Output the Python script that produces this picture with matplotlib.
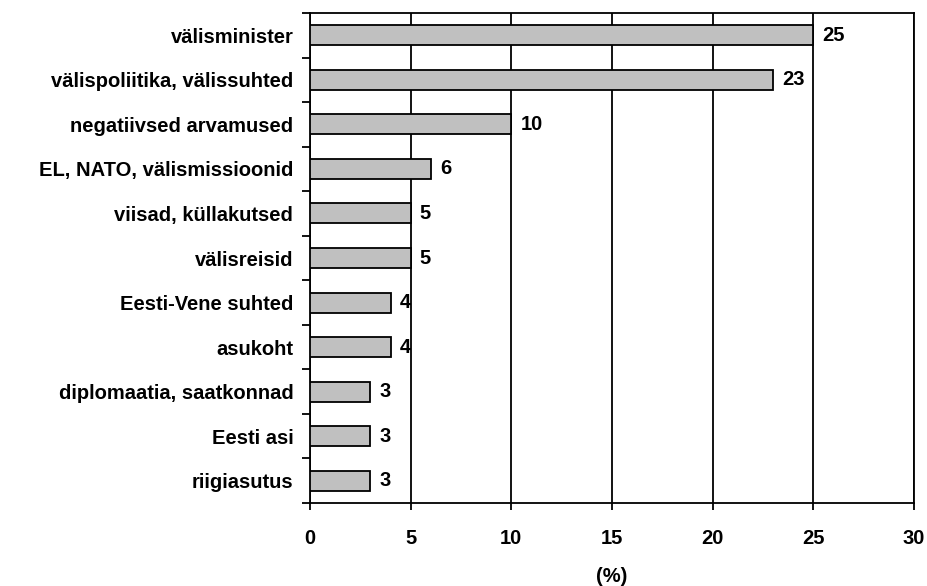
import matplotlib
matplotlib.use("Agg")
import matplotlib.pyplot as plt
from matplotlib.ticker import FixedLocator

categories = ["välisminister", "välispoliitika, välissuhted", "negatiivsed arvamused",
              "EL, NATO, välismissioonid", "viisad, küllakutsed", "välisreisid",
              "Eesti-Vene suhted", "asukoht", "diplomaatia, saatkonnad", "Eesti asi",
              "riigiasutus"]
values = [25, 23, 10, 6, 5, 5, 4, 4, 3, 3, 3]
xticks = [0, 5, 10, 15, 20, 25, 30]

plt.rcParams['font.family'] = ['Liberation Sans', 'DejaVu Sans']
plt.rcParams['font.weight'] = 'bold'
FS = 14.5

fig = plt.figure(figsize=(9.28, 5.86), dpi=100)
ax = fig.add_axes([310/928, 1-503/586, (914-310)/928, (503-13)/586])

n = len(categories)
ypos = list(range(n))
ax.barh(ypos, values, height=0.45, color='#c0c0c0', edgecolor='black', linewidth=1.3, zorder=3)
for y, v in zip(ypos, values):
    ax.text(v + 0.45, y, str(v), va='center', ha='left', fontsize=FS, fontweight='bold', zorder=4)

ax.set_xlim(0, 30)
ax.set_ylim(n - 0.5, -0.5)
ax.set_xticks(xticks)
ax.set_xticklabels([str(t) for t in xticks], fontsize=FS, fontweight='bold')
ax.set_yticks(ypos)
ax.set_yticklabels(categories, fontsize=FS, fontweight='bold')
ax.tick_params(axis='y', which='major', length=0, pad=12)
ax.yaxis.set_minor_locator(FixedLocator([i - 0.5 for i in range(n + 1)]))
ax.tick_params(axis='y', which='minor', length=6, width=1.3, direction='out')
ax.tick_params(axis='x', which='major', length=5, width=1.3, direction='out', pad=14)
ax.grid(axis='x', color='black', linewidth=1.3, zorder=0)
for s in ax.spines.values():
    s.set_linewidth(1.3)
ax.set_axisbelow(True)
fig.text((310 + 914) / 2 / 928, 1 - 577/586, "(%)", ha='center', va='center',
         fontsize=FS, fontweight='bold')

fig.savefig("out.png", dpi=100)
